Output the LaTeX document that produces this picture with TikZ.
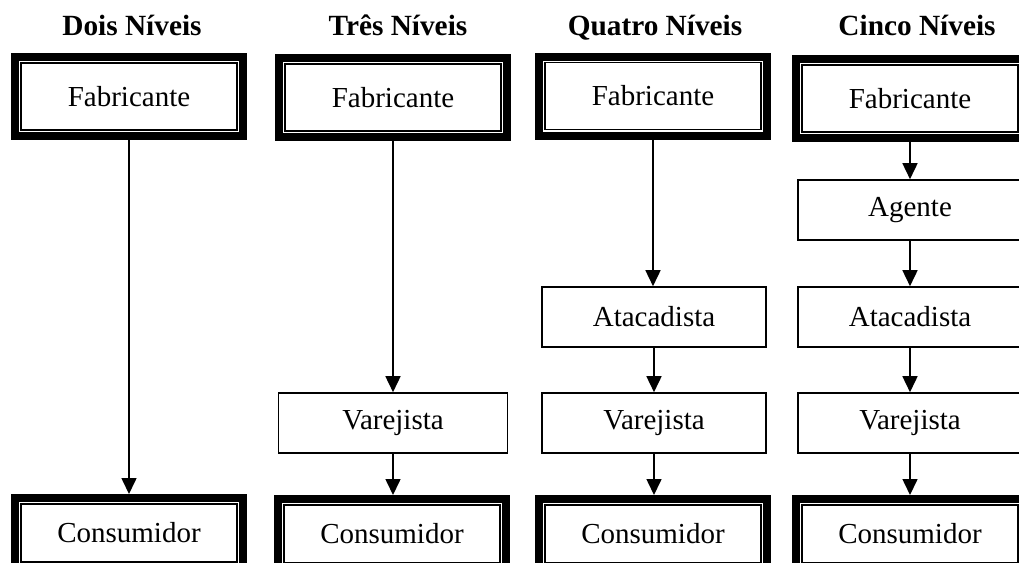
\documentclass[tikz,border=0pt]{standalone}
\usepackage{fontspec}
\setmainfont{Liberation Serif}
\usetikzlibrary{arrows.meta}
\begin{document}
\begin{tikzpicture}[x=1pt,y=-1pt,
  every node/.style={font=\fontsize{29}{33}\selectfont},
  head/.style={font=\fontsize{29.3}{33}\selectfont\bfseries, anchor=base, inner sep=0pt},
  endbox/.style={draw, line width=1.8pt, minimum width=216pt, minimum height=67pt,
                 inner sep=0pt, outer sep=10pt},
  consbox/.style={endbox, minimum height=58pt},
  midbox/.style={draw, line width=1.6pt, minimum width=224pt, minimum height=60pt, inner sep=0pt},
  frame/.style={line width=8pt},
  flow/.style={line width=1.6pt, -{Triangle[length=16pt,width=15pt]}}
]
\useasboundingbox (0,0) rectangle (1019,562);
\clip (0,0) rectangle (1019,562);

% column headings
\node[head] (h1) at (132,35) {Dois Níveis};
\node[head] (h2) at (398,35) {Três Níveis};
\node[head] (h3) at (655,35) {Quatro Níveis};
\node[head] (h4) at (917,35) {Cinco Níveis};

% two levels
\node[endbox] (f1) at (129,96.5) {Fabricante};
\node[consbox] (c1) at (129,533) {Consumidor};

% three levels
\node[endbox] (f2) at (393,97.5) {Fabricante};
\node[midbox, minimum width=229pt] (v2) at (393,423) {Varejista};
\node[consbox] (c2) at (392,534) {Consumidor};

% four levels
\node[endbox] (f3) at (653,96) {Fabricante};
\node[midbox] (a3) at (654,317) {Atacadista};
\node[midbox] (v3) at (654,423) {Varejista};
\node[consbox] (c3) at (653,534) {Consumidor};

% five levels
\node[endbox] (f4) at (910,98.5) {Fabricante};
\node[midbox] (g4) at (910,210) {Agente};
\node[midbox] (a4) at (910,317) {Atacadista};
\node[midbox] (v4) at (910,423) {Varejista};
\node[consbox] (c4) at (910,534) {Consumidor};

% heavy outer frames of the end boxes
\foreach \n in {f1,c1,f2,c2,f3,c3,f4,c4}
  \draw[frame] ([shift={(4pt,-4pt)}]\n.north west) rectangle ([shift={(-4pt,4pt)}]\n.south east);

% flows
\draw[flow] (f1.south) -- (c1.north);
\draw[flow] (f2.south) -- (v2.north);
\draw[flow] (v2.south) -- (v2.south |- c2.north);
\draw[flow] (f3.south) -- (f3.south |- a3.north);
\draw[flow] (a3) -- (v3);
\draw[flow] (v3.south) -- (v3.south |- c3.north);
\draw[flow] (f4) -- (g4);
\draw[flow] (g4) -- (a4);
\draw[flow] (a4) -- (v4);
\draw[flow] (v4) -- (c4);
\end{tikzpicture}
\end{document}
